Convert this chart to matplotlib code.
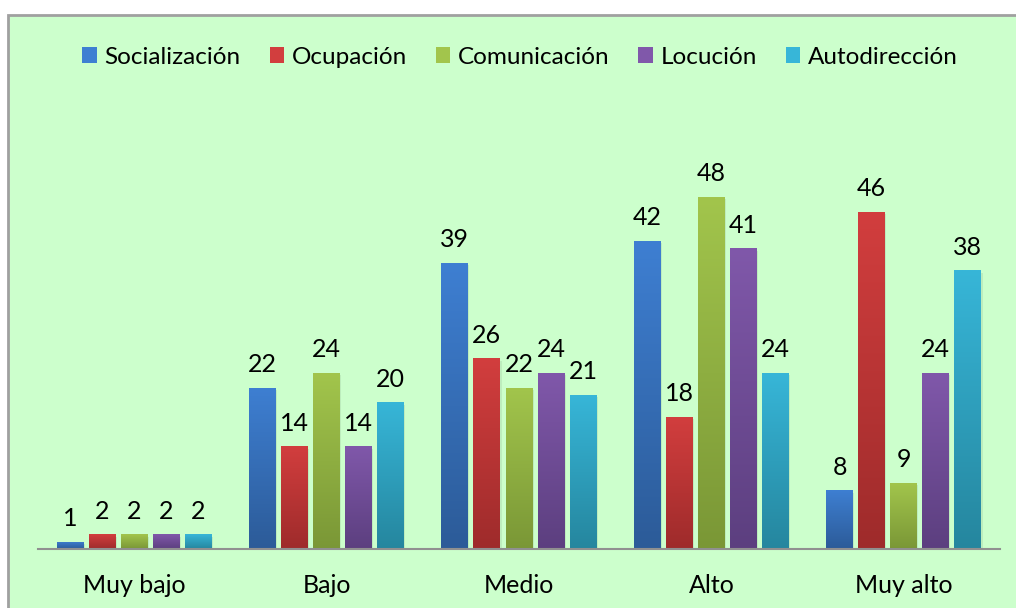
import matplotlib
matplotlib.use("Agg")
import matplotlib.pyplot as plt
import numpy as np
from matplotlib.colors import LinearSegmentedColormap
from matplotlib.patches import Rectangle

categories = ["Muy bajo", "Bajo", "Medio", "Alto", "Muy alto"]
series_names = ["Socialización", "Ocupación", "Comunicación", "Locución", "Autodirección"]
socializacion = [1, 22, 39, 42, 8]
ocupacion = [2, 14, 26, 18, 46]
comunicacion = [2, 24, 22, 48, 9]
locucion = [2, 14, 24, 41, 24]
autodireccion = [2, 20, 21, 24, 38]
series_values = [socializacion, ocupacion, comunicacion, locucion, autodireccion]

grad_colors = [("#3e7fd2", "#2c5b98"), ("#d23e3e", "#9e2b2b"), ("#a2c54c", "#7a9736"),
               ("#8058aa", "#5c3f7f"), ("#37b6d8", "#25869e")]

plt.rcParams['font.family'] = ['Lato', 'DejaVu Sans']

fig = plt.figure(figsize=(10.16, 6.08), dpi=100)
fig.patch.set_facecolor("white")
frame = Rectangle((8/1016, -0.05), 1.1, (608-15)/608 + 0.05, transform=fig.transFigure,
                  facecolor="#ccffcc", edgecolor="#a0a0a0", linewidth=2, zorder=-10)
fig.patches.append(frame)

ax = fig.add_axes([38/1016, (608-549)/608, (1000-38)/1016, (549-100)/608])
ax.set_facecolor("none")
ax.set_zorder(1)

n = len(series_names)
pitch = 1/6.0
width = 0.14
x = np.arange(len(categories))
grad = np.linspace(0, 1, 256).reshape(-1, 1)
for i, (name, vals) in enumerate(zip(series_names, series_values)):
    pos = x + (i - (n-1)/2) * pitch
    top, bot = grad_colors[i]
    cmap = LinearSegmentedColormap.from_list(f"g{i}", [bot, top])
    bars = ax.bar(pos, vals, width, color=top, label=name, zorder=2)
    for b, v in zip(bars, vals):
        sh = Rectangle((b.get_x() + 0.006, 0), b.get_width(), v - 0.3,
                       facecolor="#000000", alpha=0.07, zorder=1.5, linewidth=0)
        ax.add_patch(sh)
        im = ax.imshow(grad, cmap=cmap, aspect="auto", origin="lower",
                       extent=(b.get_x(), b.get_x() + b.get_width(), 0, v), zorder=2.5)
        im.set_clip_path(b)
        ax.annotate(str(v), (b.get_x() + b.get_width()/2, v), xytext=(0, 8.5),
                    textcoords="offset points", ha="center", va="bottom",
                    fontsize=18, color="black")

ax.set_xlim(-0.5, 4.5)
ax.set_ylim(0, 61.25)
for s in ["top", "right", "left"]:
    ax.spines[s].set_visible(False)
ax.spines["bottom"].set_color("#909090")
ax.spines["bottom"].set_linewidth(1.5)
ax.set_yticks([])
ax.set_xticks(x)
ax.set_xticklabels(categories, fontsize=18)
ax.tick_params(axis="x", length=0, pad=18)

handles = [Rectangle((0, 0), 1, 1, facecolor=grad_colors[i][0]) for i in range(n)]
fig.legend(handles, series_names, loc="center", bbox_to_anchor=(520/1016, 1 - 57/608),
           ncol=5, frameon=False, fontsize=17.5, handlelength=0.6, handleheight=0.6,
           handletextpad=0.3, columnspacing=1.2)

fig.savefig("out.png", dpi=100)
